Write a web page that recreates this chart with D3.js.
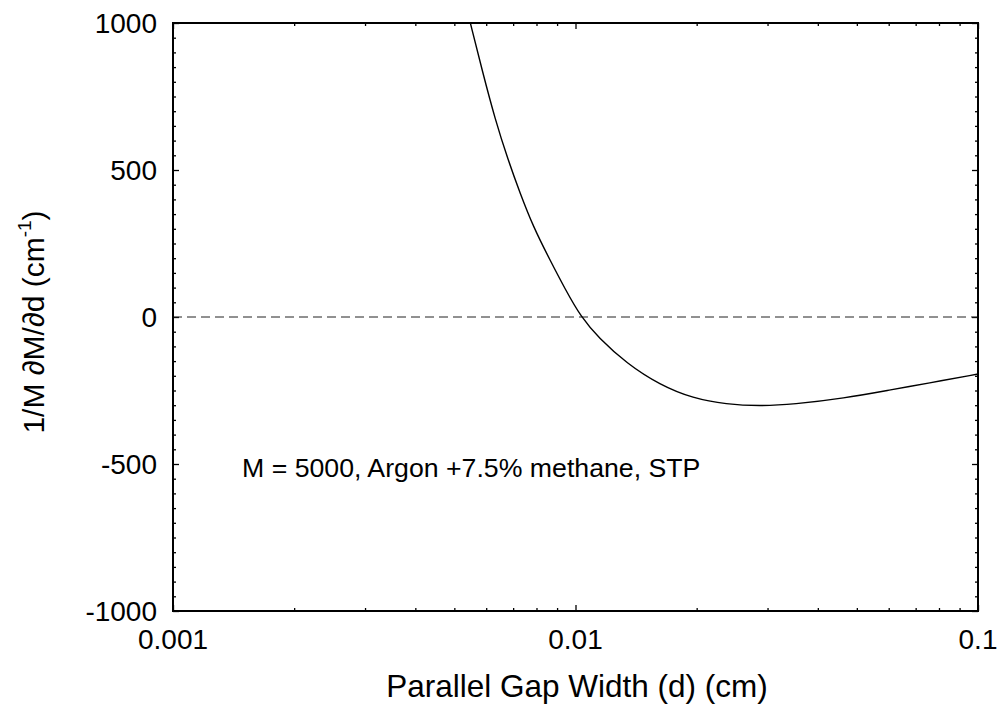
<!DOCTYPE html>
<html>
<head>
<meta charset="utf-8">
<script src="https://cdn.jsdelivr.net/npm/d3@7"></script>
<style>
  html, body { margin: 0; padding: 0; background: #fff; }
  svg text { font-family: "Liberation Sans", Arial, Helvetica, sans-serif; fill: #000; }
</style>
</head>
<body>
<svg id="chart" width="1001" height="717"></svg>
<script>
// Gap width d (cm) and relative gain derivative 1/M dM/dd (cm^-1)
const gapWidth = [0.00548, 0.00586, 0.00632, 0.00680, 0.00728, 0.00786, 0.00864, 0.00945, 0.01032,
                  0.0114, 0.0134, 0.0162, 0.0196, 0.0237, 0.0287, 0.0348, 0.0463, 0.0616, 0.0746, 0.1];
const gainSlope = [1000, 840, 670, 534, 422, 306, 194, 92, 0,
                   -70, -158, -231, -277, -297, -303, -297, -277, -246, -226, -194];

const xTicks = [0.001, 0.01, 0.1];
const xTickLabels = ["0.001", "0.01", "0.1"];
const yTicks = [-1000, -500, 0, 500, 1000];
const annotation = "M = 5000, Argon +7.5% methane, STP";

const svg = d3.select("#chart");
const m = { left: 173, right: 978, top: 23, bottom: 611 };

const x = d3.scaleLog().domain([0.001, 0.1]).range([m.left, m.right]);
const y = d3.scaleLinear().domain([-1000, 1000]).range([m.bottom, m.top]);

// minor ticks: 2..9 per decade on x, every 50 on y
const xMinor = [];
[0.001, 0.01].forEach(dec => { for (let k = 2; k <= 9; k++) xMinor.push(dec * k); });
const yMinor = d3.range(-1000, 1001, 50).filter(v => yTicks.indexOf(v) < 0);

const tickFont = 28;

function drawTicks(axis, pos, len) {
  svg.append("g").call(axis.tickSize(len).tickFormat("").tickSizeOuter(0))
    .attr("transform", pos)
    .call(g => g.select(".domain").remove())
    .call(g => g.selectAll("line").attr("stroke", "#000").attr("stroke-width", 1.3));
}

// inward ticks on all four sides
drawTicks(d3.axisTop(x).tickValues(xTicks), `translate(0,${m.bottom})`, 6);
drawTicks(d3.axisTop(x).tickValues(xMinor), `translate(0,${m.bottom})`, 3);
drawTicks(d3.axisBottom(x).tickValues(xTicks), `translate(0,${m.top})`, 6);
drawTicks(d3.axisBottom(x).tickValues(xMinor), `translate(0,${m.top})`, 3);
drawTicks(d3.axisRight(y).tickValues(yTicks), `translate(${m.left},0)`, 6);
drawTicks(d3.axisRight(y).tickValues(yMinor), `translate(${m.left},0)`, 3);
drawTicks(d3.axisLeft(y).tickValues(yTicks), `translate(${m.right},0)`, 6);
drawTicks(d3.axisLeft(y).tickValues(yMinor), `translate(${m.right},0)`, 3);

// tick labels
svg.append("g").selectAll("text").data(xTicks).join("text")
  .attr("x", d => x(d)).attr("y", 649)
  .attr("text-anchor", "middle").attr("font-size", tickFont)
  .text((d, i) => xTickLabels[i]);

svg.append("g").selectAll("text").data(yTicks).join("text")
  .attr("x", 157).attr("y", d => y(d)).attr("dy", "0.36em")
  .attr("text-anchor", "end").attr("font-size", tickFont)
  .text(d => d);

// zero reference line
svg.append("line")
  .attr("x1", m.left).attr("x2", m.right)
  .attr("y1", y(0)).attr("y2", y(0))
  .attr("stroke", "#222").attr("stroke-width", 1).attr("stroke-dasharray", "9,5");

// curve, clipped to the plot frame
svg.append("clipPath").attr("id", "plotclip").append("rect")
  .attr("x", m.left).attr("y", m.top).attr("width", m.right - m.left).attr("height", m.bottom - m.top);

const line = d3.line()
  .x((d, i) => x(gapWidth[i]))
  .y(d => y(d))
  .curve(d3.curveBasis);

svg.append("path")
  .datum(gainSlope)
  .attr("clip-path", "url(#plotclip)")
  .attr("fill", "none").attr("stroke", "#000").attr("stroke-width", 1.4)
  .attr("d", line);

// frame
svg.append("rect")
  .attr("x", m.left).attr("y", m.top).attr("width", m.right - m.left).attr("height", m.bottom - m.top)
  .attr("fill", "none").attr("stroke", "#000").attr("stroke-width", 2);

// annotation
svg.append("text").attr("x", 242).attr("y", 477).attr("font-size", 26.7).text(annotation);

// axis titles
svg.append("text")
  .attr("x", 577).attr("y", 697)
  .attr("text-anchor", "middle").attr("font-size", 31.5)
  .text("Parallel Gap Width (d) (cm)");

const yl = svg.append("text")
  .attr("transform", `translate(44,322) rotate(-90)`)
  .attr("text-anchor", "middle").attr("font-size", 30);
yl.append("tspan").text("1/M ∂M/∂d (cm");
yl.append("tspan").attr("dy", -13).attr("font-size", 19).text("-1");
yl.append("tspan").attr("dy", 13).text(")");
</script>
</body>
</html>
